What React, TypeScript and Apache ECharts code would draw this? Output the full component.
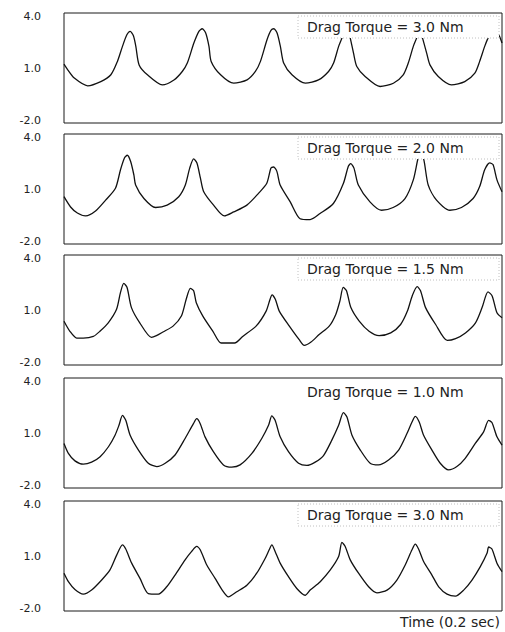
import React, { useEffect, useRef } from "react";
import * as echarts from "echarts";

// time in ms (0–200 ms = 0.2 sec), torque reading
const panel1: [number, number][] = [[0,1.21],[1.7,0.90],[4.7,0.45],[10.8,0.03],[16.8,0.26],[21.4,0.63],[24.4,1.36],[26.7,2.18],[28.7,2.81],[30.2,3.0],[31.7,2.76],[32.8,2.18],[34.3,1.17],[38.1,0.63],[44.9,0.08],[50.2,0.35],[54.0,0.81],[56.3,1.27],[59.3,2.36],[61.6,3.0],[63.1,3.14],[64.7,2.91],[66.2,2.18],[67.2,1.36],[71.5,0.63],[77.5,0.17],[83.6,0.35],[87.4,0.81],[89.7,1.36],[92.7,2.54],[94.5,3.05],[95.8,3.14],[97.3,2.91],[98.8,2.18],[100.3,1.27],[104.1,0.63],[110.2,0.17],[116.2,0.35],[120.8,0.81],[123.1,1.27],[125.4,2.18],[126.9,2.63],[128.4,3.12],[129.9,2.91],[130.7,2.63],[132.2,1.81],[133.7,1.08],[137.5,0.54],[144.3,-0.01],[150.4,0.17],[154.9,0.63],[157.2,1.27],[159.5,2.18],[161.0,2.63],[162.2,3.12],[163.7,2.63],[165.6,1.81],[167.1,1.17],[170.9,0.54],[176.9,0.08],[183.0,0.26],[187.6,0.72],[189.8,1.36],[192.1,2.18],[193.6,2.63],[195.6,3.12],[197.4,3.0],[198.9,2.72],[200,2.36]];
const panel2: [number, number][] = [[0,0.58],[3.0,0.02],[6.1,-0.31],[9.9,-0.47],[14.4,-0.20],[19.0,0.39],[23.5,1.04],[25.8,2.05],[27.6,2.69],[28.9,2.84],[30.4,2.51],[31.9,1.77],[32.7,1.22],[36.5,0.48],[41.8,-0.01],[47.1,0.12],[52.4,0.58],[55.4,1.22],[57.4,2.14],[59.2,2.64],[60.7,2.42],[62.3,1.59],[63.8,0.85],[68.3,0.12],[73.2,-0.47],[77.5,-0.25],[83.5,0.12],[88.8,0.76],[92.6,1.31],[94.5,2.14],[95.7,2.2],[97.2,1.96],[98.7,1.22],[103.3,0.30],[107.8,-0.62],[112.4,-0.67],[116.9,-0.34],[123.0,0.21],[127.6,1.31],[129.8,2.23],[130.9,2.38],[132.4,2.14],[134.4,1.22],[139.7,0.30],[145.0,-0.16],[150.3,-0.01],[155.7,0.48],[159.5,1.50],[161.7,2.69],[162.8,2.97],[164.3,2.60],[166.3,1.22],[170.1,0.39],[176.2,-0.16],[181.5,-0.01],[186.8,0.48],[189.8,1.13],[192.1,2.05],[194.4,2.42],[195.9,2.33],[197.7,1.50],[200,0.85]];
const panel3: [number, number][] = [[0,0.39],[2.7,-0.16],[5.8,-0.53],[8.8,-0.53],[13.4,-0.44],[16.4,-0.16],[20.2,0.30],[24.0,1.04],[25.8,1.96],[27.3,2.45],[28.8,2.23],[30.8,1.13],[34.6,0.30],[39.9,-0.49],[42.2,-0.40],[45.2,-0.20],[49.8,0.12],[53.6,0.67],[55.8,1.59],[57.7,2.18],[59.2,2.05],[60.4,1.40],[63.4,0.67],[68.0,-0.16],[71.8,-0.80],[77.9,-0.80],[81.6,-0.44],[87.7,0.12],[92.3,0.94],[94.1,1.59],[95.0,1.83],[96.5,1.59],[98.3,0.94],[102.9,0.12],[107.4,-0.62],[109.7,-0.93],[112.8,-0.75],[116.5,-0.34],[121.1,0.12],[124.1,0.76],[126.0,1.50],[127.5,2.23],[129.0,2.05],[131.0,1.13],[134.8,0.39],[139.3,-0.16],[143.9,-0.40],[149.2,-0.25],[153.7,0.21],[156.8,0.94],[159.0,1.77],[161.3,2.27],[162.8,2.05],[165.1,1.13],[169.7,0.21],[175.0,-0.66],[178.8,-0.56],[183.3,-0.25],[187.9,0.30],[190.9,1.13],[193.6,1.99],[195.5,1.77],[197.7,0.85],[200,0.58]];
const panel4: [number, number][] = [[0,0.43],[2.0,-0.11],[5.0,-0.52],[8.8,-0.70],[12.6,-0.59],[16.5,-0.29],[20.3,0.25],[23.3,0.88],[25.1,1.42],[26.7,1.96],[28.2,1.69],[30.2,0.88],[34.0,0.07],[38.5,-0.65],[42.4,-0.83],[46.2,-0.65],[50.7,-0.20],[55.3,0.70],[59.1,1.51],[60.6,1.78],[62.2,1.51],[64.4,0.79],[68.2,-0.02],[72.8,-0.74],[76.6,-0.86],[80.4,-0.74],[85.8,-0.11],[90.3,0.70],[93.4,1.42],[94.9,1.93],[96.4,1.69],[98.7,0.79],[102.5,-0.02],[107.1,-0.65],[110.9,-0.77],[114.7,-0.59],[118.5,-0.23],[122.3,0.61],[125.4,1.42],[127.6,2.11],[129.2,1.87],[131.5,0.88],[135.3,0.07],[139.8,-0.65],[143.6,-0.74],[148.2,-0.47],[152.8,0.07],[156.6,0.97],[158.9,1.60],[160.4,1.91],[162.2,1.60],[164.2,0.88],[168.0,0.07],[171.8,-0.65],[175.6,-1.01],[179.4,-0.83],[183.2,-0.38],[187.8,0.43],[191.6,1.06],[193.9,1.69],[195.4,1.57],[197.7,0.79],[200,0.34]];
const panel5: [number, number][] = [[0,0.06],[2.0,-0.40],[5.0,-0.83],[8.8,-1.08],[12.6,-0.86],[17.2,-0.31],[21.0,0.24],[24.1,1.06],[26.7,1.61],[28.2,1.38],[30.9,0.61],[34.7,-0.22],[38.5,-1.05],[43.1,-1.08],[46.9,-0.68],[50.7,-0.04],[55.3,0.79],[58.3,1.25],[60.6,1.52],[62.2,1.34],[65.2,0.51],[69.0,-0.22],[72.1,-0.83],[75.1,-1.23],[78.9,-0.95],[83.5,-0.59],[88.0,0.06],[91.9,0.88],[93.7,1.34],[94.9,1.61],[96.4,1.25],[98.7,0.61],[102.5,-0.13],[106.3,-0.77],[110.1,-1.14],[112.4,-0.86],[117.0,-0.40],[121.6,0.24],[125.4,0.97],[126.9,1.74],[128.4,1.52],[130.7,0.79],[134.5,0.06],[139.1,-0.68],[142.9,-1.01],[147.5,-0.86],[152.0,-0.31],[155.8,0.51],[158.9,1.34],[160.4,1.65],[161.9,1.38],[164.2,0.70],[168.0,-0.04],[171.1,-0.68],[174.9,-1.08],[178.7,-1.19],[182.5,-0.86],[186.3,-0.31],[190.1,0.42],[193.2,1.16],[193.9,1.49],[195.4,1.38],[197.7,0.61],[200,0.15]];

const panelData = [panel1, panel2, panel3, panel4, panel5];
const panelLabels = [
  "Drag Torque = 3.0 Nm",
  "Drag Torque = 2.0 Nm",
  "Drag Torque = 1.5 Nm",
  "Drag Torque = 1.0 Nm",
  "Drag Torque = 3.0 Nm",
];
const yMin = -2;
const yMax = 4;
const yStep = 3;
const timeMax = 200;
const xAxisTitle = "Time (0.2 sec)";

const FONT = "DejaVu Sans";

export default function App() {
  const ref = useRef<HTMLDivElement>(null);
  useEffect(() => {
    if (!ref.current) return;
    const chart = echarts.init(ref.current, undefined, { renderer: "svg" });
    const tops = [13, 134, 255, 378, 501];
    const h = 110;
    const grids = tops.map((t) => ({
      left: 64,
      right: 3,
      top: t,
      height: h,
      show: true,
      borderColor: "#1a1a1a",
      borderWidth: 1,
      backgroundColor: "transparent",
    }));
    const xAxes = tops.map((_, i) => ({
      type: "value",
      gridIndex: i,
      min: 0,
      max: timeMax,
      axisLine: { show: false },
      axisTick: { show: false },
      axisLabel: { show: false },
      splitLine: { show: false },
    }));
    const yAxes = tops.map((_, i) => ({
      type: "value",
      gridIndex: i,
      min: yMin,
      max: yMax,
      interval: yStep,
      axisLine: { show: false },
      axisTick: { show: false },
      splitLine: { show: false },
      axisLabel: {
        show: true,
        showMinLabel: true,
        showMaxLabel: true,
        margin: 23,
        fontSize: 11,
        fontFamily: FONT,
        color: "#222",
        formatter: (v: number) => {
          const s = v.toFixed(1);
          if (v === yMax) return `{t|${s}}`;
          if (v === yMin) return `{b|${s}}`;
          return `{m|${s}}`;
        },
        rich: {
          t: { fontSize: 11, fontFamily: FONT, color: "#222", padding: [6, 0, 0, 0] },
          b: { fontSize: 11, fontFamily: FONT, color: "#222", padding: [0, 0, 6, 0] },
          m: { fontSize: 11, fontFamily: FONT, color: "#222" },
        },
      },
    }));
    const series = panelData.map((d, i) => ({
      type: "line",
      xAxisIndex: i,
      yAxisIndex: i,
      data: d,
      showSymbol: false,
      smooth: 0.25,
      lineStyle: { color: "#111", width: 1.3 },
      z: 2,
    }));
    const graphics: any[] = [];
    tops.forEach((t, i) => {
      graphics.push({
        type: "rect",
        shape: { x: 298, y: t + 3, width: 201, height: 22 },
        style: {
          fill: "#fff",
          stroke: i === 3 ? "#fff" : "#b0b0b0",
          lineWidth: 0.8,
          lineDash: [1, 2],
        },
        z: 100,
      });
      graphics.push({
        type: "text",
        x: 307,
        y: t + 14,
        style: {
          text: panelLabels[i],
          fill: "#222",
          fontSize: 14,
          fontFamily: FONT,
          verticalAlign: "middle",
          align: "left",
        },
        z: 101,
      });
    });
    graphics.push({
      type: "text",
      x: 500,
      y: 622,
      style: {
        text: xAxisTitle,
        fill: "#222",
        fontSize: 14,
        fontFamily: FONT,
        verticalAlign: "middle",
        align: "right",
      },
      z: 101,
    });
    chart.setOption({
      animation: false,
      backgroundColor: "#fff",
      grid: grids,
      xAxis: xAxes,
      yAxis: yAxes,
      series,
      graphic: graphics,
    } as any);
    return () => chart.dispose();
  }, []);
  return (
    <div
      ref={ref}
      style={{ position: "absolute", left: 0, top: 0, width: 505, height: 632 }}
    />
  );
}
